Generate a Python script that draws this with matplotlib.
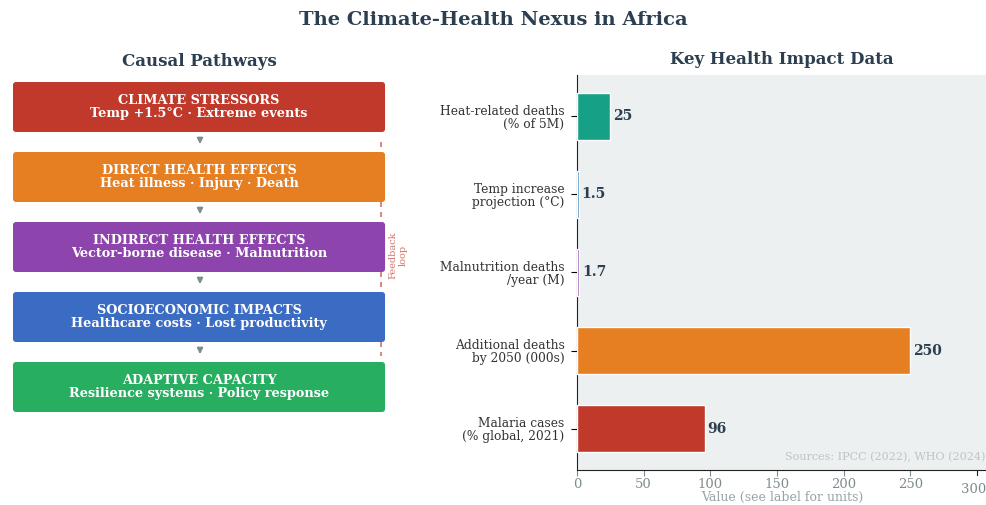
import matplotlib.pyplot as plt
import matplotlib.transforms as mtransforms
from matplotlib.patches import FancyBboxPatch

plt.rcParams['font.family'] = ['DejaVu Serif']

# Pathway stages (top to bottom)
stage_titles = ["CLIMATE STRESSORS", "DIRECT HEALTH EFFECTS", "INDIRECT HEALTH EFFECTS",
                "SOCIOECONOMIC IMPACTS", "ADAPTIVE CAPACITY"]
stage_details = ["Temp +1.5°C · Extreme events", "Heat illness · Injury · Death",
                 "Vector-borne disease · Malnutrition", "Healthcare costs · Lost productivity",
                 "Resilience systems · Policy response"]
stage_colors = ["#c0392b", "#e67e22", "#8e44ad", "#3a6cc4", "#27ae60"]

# Key impact figures
impact_labels = ["Heat-related deaths\n(% of 5M)", "Temp increase\nprojection (°C)",
                 "Malnutrition deaths\n/year (M)", "Additional deaths\nby 2050 (000s)",
                 "Malaria cases\n(% global, 2021)"]
impact_values = [25, 1.5, 1.7, 250, 96]
impact_text = ["25", "1.5", "1.7", "250", "96"]
impact_colors = ["#16a085", "#2980b9", "#8e44ad", "#e67e22", "#c0392b"]

navy = "#2c3e50"

fig = plt.figure(figsize=(9.87, 5.05), dpi=100)
fig.text(0.5, 0.96, "The Climate-Health Nexus in Africa", ha='center', va='center',
         fontsize=14, fontweight='bold', color=navy)

# ---- left: causal pathway diagram (pixel-like units) ----
axl = fig.add_axes([0, 0, 0.42, 1.0])
axl.set_xlim(0, 414.5)
axl.set_ylim(505, 0)
axl.axis('off')

box_x, box_w, box_h, step, top0 = 13, 372, 50, 70, 82
axl.text(box_x + box_w / 2, 62, "Causal Pathways", ha='center', va='center',
         fontsize=12, fontweight='bold', color=navy)

for i, (t, d, c) in enumerate(zip(stage_titles, stage_details, stage_colors)):
    top = top0 + i * step
    box = FancyBboxPatch((box_x, top), box_w, box_h, boxstyle="round,pad=0,rounding_size=3",
                         fc=c, ec='none', zorder=3)
    axl.add_patch(box)
    axl.text(box_x + box_w / 2, top + box_h / 2, t + "\n" + d, ha='center', va='center',
             fontsize=9.3, fontweight='bold', color='white', linespacing=1.0, zorder=4)
    if i < len(stage_titles) - 1:
        axl.annotate("", xy=(box_x + box_w / 2 + 1, top + box_h + 15),
                     xytext=(box_x + box_w / 2 + 1, top + box_h + 4),
                     arrowprops=dict(arrowstyle='-|>', color='#7f8c8d', lw=1.4,
                                     mutation_scale=8), zorder=2)

# feedback loop marker
axl.plot([381, 381], [142, 356], ls=(0, (3, 3)), color='#c0392b', lw=1.2, alpha=0.7, zorder=1)
axl.text(398, 255, "Feedback\nloop", rotation=90, ha='center', va='center',
         fontsize=7, color='#c0392b', alpha=0.7)

# ---- right: key health impact bars ----
axr = fig.add_axes([0.5846, 0.0693, 0.4154, 0.7822])
axr.set_facecolor('#ecf0f1')
ypos = list(range(len(impact_values)))
axr.barh(ypos, impact_values, height=0.6, color=impact_colors, edgecolor='white',
         linewidth=1.0, zorder=3)
axr.set_yticks(ypos)
axr.set_yticklabels(impact_labels, fontsize=8.8, color='#333333', linespacing=1.0)
axr.invert_yaxis()
axr.set_xlim(0, max(impact_values) * 1.23)
axr.set_xticks([0, 50, 100, 150, 200, 250])
axr.tick_params(axis='x', labelsize=9.5, colors='#7f8c8d', length=4, pad=2)
axr.tick_params(axis='y', length=4, pad=5)
for s in ['top', 'right']:
    axr.spines[s].set_visible(False)
axr.spines['left'].set_color('#222222')
axr.spines['bottom'].set_color('#222222')
axr.set_xlabel("Value (see label for units)", fontsize=9, color='#95a5a6', labelpad=0)
axr.set_title("Key Health Impact Data", fontsize=12, fontweight='bold', color=navy, pad=8)

# last tick sits right at the edge, keep its label inside the canvas
xax = axr.get_xaxis_transform()
axr.plot([300, 300], [0, -0.012], transform=xax, color='#222222', lw=0.8, clip_on=False)
edge = mtransforms.blended_transform_factory(axr.transAxes, axr.transAxes)
axr.text(0.999, -0.032, "300", transform=edge, ha='right', va='top',
         fontsize=9.5, color='#7f8c8d', clip_on=False)

for y, v, t in zip(ypos, impact_values, impact_text):
    axr.text(v + 2, y, t, va='center', ha='left', fontsize=10, fontweight='bold',
             color=navy, zorder=4)

axr.text(0.995, 0.02, "Sources: IPCC (2022), WHO (2024)", transform=axr.transAxes,
         ha='right', va='bottom', fontsize=8, color='#bdc3c7', zorder=4)

fig.savefig("out.png", dpi=100)
